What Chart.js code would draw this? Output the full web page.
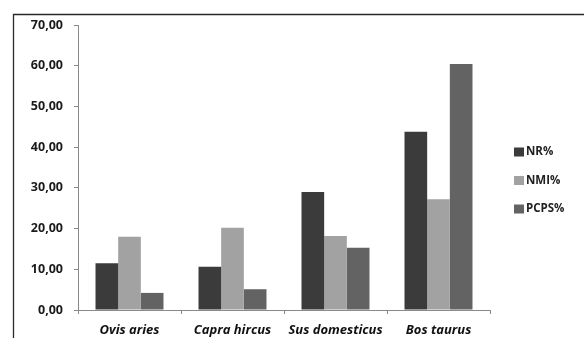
<!DOCTYPE html>
<html>
<head>
<meta charset="utf-8">
<script src="https://cdn.jsdelivr.net/npm/chart.js@4/dist/chart.umd.min.js"></script>
<style>
  html, body { margin: 0; padding: 0; background: #fff; }
  #wrap { width: 584px; height: 338px; position: relative; }
</style>
</head>
<body>
<div id="wrap"><canvas id="c" width="584" height="338"></canvas></div>
<script>
// Species on the category axis
const categories = ['Ovis aries', 'Capra hircus', 'Sus domesticus', 'Bos taurus'];
// Percentages per species
const nrValues   = [11.5, 10.6, 29.0, 43.8];
const nmiValues  = [18.0, 20.2, 18.2, 27.2];
const pcpsValues = [4.2, 5.1, 15.3, 60.4];
const seriesNames = ['NR%', 'NMI%', 'PCPS%'];
// Value axis range
const yMin = 0, yMax = 70, yStep = 10;

const fontFamily = '"Open Sans", "Liberation Sans", Arial, sans-serif';

// Outer frame of the figure (open at right and bottom edges)
const framePlugin = {
  id: 'frame',
  beforeDraw(chart) {
    const ctx = chart.ctx;
    ctx.save();
    ctx.strokeStyle = '#2a2a2a';
    ctx.lineWidth = 1.3;
    ctx.beginPath();
    ctx.moveTo(13.5, 340);
    ctx.lineTo(13.5, 14.5);
    ctx.lineTo(590, 14.5);
    ctx.stroke();
    ctx.restore();
  }
};

// Legend column on the right, built from the datasets
const sideLegend = {
  id: 'sideLegend',
  afterDraw(chart) {
    const ctx = chart.ctx;
    ctx.save();
    ctx.font = 'bold 11.5px ' + fontFamily;
    ctx.textBaseline = 'middle';
    chart.data.datasets.forEach((ds, i) => {
      const y = 152 + i * 28.5;
      ctx.fillStyle = ds.backgroundColor;
      ctx.fillRect(514, y - 4.5, 10, 9);
      ctx.fillStyle = '#222';
      ctx.fillText(ds.label, 526, y);
    });
    ctx.restore();
  }
};

new Chart(document.getElementById('c'), {
  type: 'bar',
  data: {
    labels: categories,
    datasets: [
      { label: seriesNames[0], data: nrValues,   backgroundColor: '#3b3b3b' },
      { label: seriesNames[1], data: nmiValues,  backgroundColor: '#a2a2a2' },
      { label: seriesNames[2], data: pcpsValues, backgroundColor: '#636363' }
    ]
  },
  options: {
    responsive: false,
    animation: false,
    devicePixelRatio: 1,
    layout: { padding: { left: 0, right: 94, top: 25, bottom: 0 } },
    datasets: { bar: { barPercentage: 1.0, categoryPercentage: 0.66 } },
    plugins: {
      legend: { display: false },
      tooltip: { enabled: false }
    },
    scales: {
      x: {
        afterFit(scale) { scale.height = 28; },
        grid: {
          display: true,
          drawOnChartArea: false,
          drawTicks: true,
          tickLength: 4,
          color: '#8a8a8a',
          offset: true
        },
        border: { display: true, color: '#8a8a8a', width: 1 },
        ticks: {
          color: '#111',
          padding: 8,
          font: { family: fontFamily, size: 13, weight: 'bold', style: 'italic' }
        }
      },
      y: {
        min: yMin,
        max: yMax,
        afterFit(scale) { scale.width = 78; },
        grid: {
          display: true,
          drawOnChartArea: false,
          drawTicks: true,
          tickLength: 4,
          color: '#8a8a8a'
        },
        border: { display: true, color: '#8a8a8a', width: 1 },
        ticks: {
          stepSize: yStep,
          color: '#1a1a1a',
          padding: 11,
          font: { family: fontFamily, size: 12.5, weight: 'bold' },
          callback: v => v.toFixed(2).replace('.', ',')
        }
      }
    }
  },
  plugins: [framePlugin, sideLegend]
});
</script>
</body>
</html>
